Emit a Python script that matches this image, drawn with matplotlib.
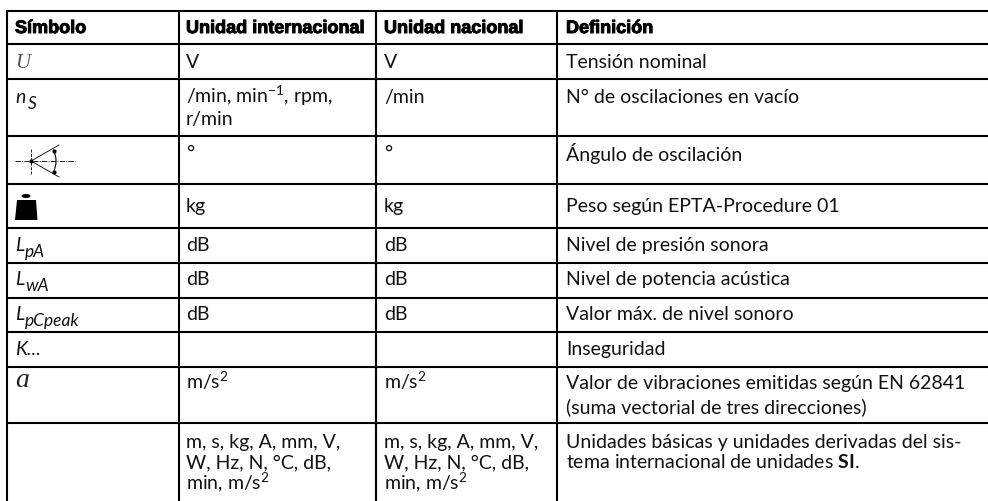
"""Tabla de simbolos y unidades."""
import matplotlib
matplotlib.use('Agg')
import matplotlib.pyplot as plt
import matplotlib.patheffects as pe
from matplotlib.patches import Arc, Ellipse, Polygon

BODY_FONT = 'Lato'
plt.rcParams['font.family'] = [BODY_FONT, 'DejaVu Sans']
plt.rcParams['mathtext.fontset'] = 'custom'
plt.rcParams['mathtext.rm'] = BODY_FONT
plt.rcParams['mathtext.it'] = BODY_FONT + ':italic'
plt.rcParams['mathtext.bf'] = BODY_FONT + ':bold'
plt.rcParams['mathtext.default'] = 'regular'

headers = ['Símbolo', 'Unidad internacional', 'Unidad nacional', 'Definición']

si_units = 'm, s, kg, A, mm, V,\nW, Hz, N, °C, dB,\nmin, m/s$^{2}$'

symbol_base = ['', 'n', '', '', 'L', 'L', 'L', 'K...', '', '']
symbol_sub = ['', 'S', '', '', 'pA', 'wA', 'pCpeak', '', '', '']
unit_int = ['V', '/min, min$^{-1}$, rpm,\nr/min', '°', 'kg', 'dB', 'dB', 'dB', '',
            'm/s$^{2}$', si_units]
unit_nat = ['V', '/min', '°', 'kg', 'dB', 'dB', 'dB', '', 'm/s$^{2}$', si_units]
definitions = ['Tensión nominal', 'N° de oscilaciones en vacío', 'Ángulo de oscilación',
               'Peso según EPTA-Procedure 01', 'Nivel de presión sonora',
               'Nivel de potencia acústica', 'Valor máx. de nivel sonoro', 'Inseguridad',
               'Valor de vibraciones emitidas según EN 62841\n(suma vectorial de tres direcciones)',
               'Unidades básicas y unidades derivadas del sis-\n'
               'tema internacional de unidades $\\mathbf{SI}$.']

# layout in pixels
W, H = 988, 501
col_lines = [7, 179, 376, 557]
row_lines = [11, 44, 79, 136, 184, 228, 263, 298, 332, 367, 423]
text_x = [15, 186, 384, 566]
baselines = [68, 103, 161, 212, 251, 285, 320, 355, 389, 448]
line_steps = [0, 22, 0, 0, 0, 0, 0, 0, 24, 20.5]
sub_x = [0, 28, 0, 0, 25, 25, 25, 0, 0, 0]
FONT_SIZE = 14

fig = plt.figure(figsize=(W / 100, H / 100), dpi=100)
ax = fig.add_axes([0, 0, 1, 1])
ax.set_xlim(0, W)
ax.set_ylim(H, 0)
ax.axis('off')

ax.hlines(row_lines, col_lines[0] - 1, W, color='black', lw=1.5)
ax.vlines(col_lines, row_lines[0], H, color='black', lw=1.5)

for x, header in zip(text_x, headers):
    ax.text(x, 33, header, fontsize=13, fontweight='bold', va='baseline', color='black',
            family='Liberation Sans',
            path_effects=[pe.withStroke(linewidth=0.7, foreground='black')])

for col, x in zip([unit_int, unit_nat, definitions], text_x[1:]):
    for i, cell in enumerate(col):
        for j, line in enumerate(cell.split('\n')):
            y = baselines[i] + j * line_steps[i]
            # the degree sign sits above the line of the angle row
            if cell == '°':
                y -= 2
            ax.text(x, y, line, fontsize=FONT_SIZE, va='baseline', color='#111111')

for i, (base, sub) in enumerate(zip(symbol_base, symbol_sub)):
    ax.text(text_x[0], baselines[i], base, fontsize=FONT_SIZE, style='italic',
            va='baseline', color='#111111')
    ax.text(sub_x[i], baselines[i] + 6, sub, fontsize=12.5, style='italic',
            va='baseline', color='#111111')

# serif symbols
ax.text(15, 68, 'U', fontsize=15, style='italic', family='Liberation Serif',
        va='baseline', color='#555555')
ax.text(15, 387, 'a', fontsize=20, style='italic', family='Liberation Serif',
        va='baseline', color='#222222')

# swing angle icon
ax.plot([15, 75], [161, 161], color='black', lw=0.6, ls='-.')
ax.plot([31, 31], [149, 174], color='black', lw=0.6, ls='--')
ax.plot([31, 59], [161, 145], color='black', lw=0.6)
ax.plot([31, 59], [161, 177], color='black', lw=0.6)
ax.add_patch(Arc((31, 161), 50, 50, theta1=-27, theta2=27, color='black', lw=0.8))
ax.plot([31, 53.5, 53.5], [161, 150.5, 171.5], ls='none', marker='o', ms=2, color='black')

# weight icon
ax.add_patch(Polygon([[17, 200], [36, 200], [37.5, 220], [15, 220]], color='black', lw=0))
ax.add_patch(Ellipse((26, 196), 9, 4, color='black', lw=0))

fig.savefig('out.png', dpi=100)
